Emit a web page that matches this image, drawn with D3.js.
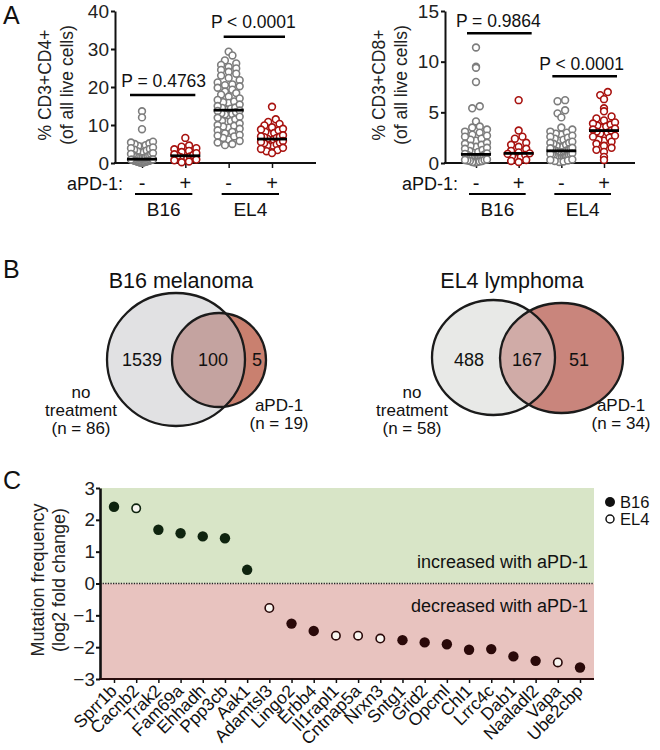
<!DOCTYPE html>
<html><head><meta charset="utf-8">
<script src="https://cdn.jsdelivr.net/npm/d3@7"></script>
<style>
body{margin:0;background:#fff;}
svg{display:block;font-family:"Liberation Sans",Arial,Helvetica,sans-serif;}
</style>
</head><body>
<svg id="fig" width="660" height="750"></svg>
<script>
// ---------------- DATA ----------------
const groupKeys = ["B16 -", "B16 +", "EL4 -", "EL4 +"];
const treatmentSigns = ["-", "+", "-", "+"];
const cellLines = ["B16", "EL4"];

// Panel A left: % CD3+CD4+ of all live cells
const cd4_B16_none = [13.6, 12.0, 8.9, 5.6, 5.4, 5.2, 5.0, 4.7, 4.5, 4.3, 4.1, 3.9, 3.7, 3.5, 3.3, 3.1, 2.9, 2.8, 2.6, 2.4, 2.3, 2.1, 2.0, 1.9, 1.7, 1.6, 1.5, 1.4, 1.3, 1.2, 1.1, 0.95, 0.9, 0.85, 0.8, 0.75, 0.7, 0.65, 0.6, 0.55, 0.5, 0.45, 0.4, 0.35, 0.3, 0.25, 0.2, 0.15, 0.1, 0.05, 0.9, 0.6, 0.3, 0.1];
const cd4_B16_aPD1 = [6.6, 4.6, 4.3, 3.9, 3.6, 3.2, 2.9, 2.6, 2.3, 2.1, 1.9, 1.7, 1.5, 1.3, 1.1, 0.9, 0.7, 0.4, 0.2];
const cd4_EL4_none = [29.3, 28.3, 27.0, 26.2, 25.8, 25.3, 24.9, 24.5, 24.0, 23.5, 23.0, 22.4, 21.8, 21.2, 20.7, 20.2, 19.8, 19.3, 18.8, 18.4, 18.0, 17.5, 17.0, 16.6, 16.2, 15.8, 15.4, 15.0, 14.6, 14.3, 14.0, 13.7, 13.4, 13.1, 12.8, 12.5, 12.2, 11.9, 11.5, 11.1, 10.8, 10.4, 10.0, 9.6, 9.3, 9.0, 8.6, 8.2, 7.8, 7.4, 7.0, 6.6, 6.2, 5.8, 5.4, 5.0, 4.7, 13.8, 14.5, 12.9, 16.0, 20.5, 11.0, 9.8, 7.2];
const cd4_EL4_aPD1 = [14.8, 11.5, 10.8, 10.3, 9.9, 9.4, 9.0, 8.6, 8.2, 7.9, 7.6, 7.3, 7.0, 6.8, 6.6, 6.4, 6.2, 6.0, 5.8, 5.5, 5.2, 4.9, 4.6, 4.3, 4.0, 3.7, 3.4, 3.1, 2.8, 2.6, 8.8, 6.9, 5.4, 4.5];
const cd4Medians = [1.0, 1.9, 13.9, 6.3];
const cd4Ticks = [0, 10, 20, 30, 40];
const cd4PLabels = ["P = 0.4763", "P < 0.0001"];

// Panel A right: % CD3+CD8+ of all live cells
const cd8_B16_none = [11.4, 9.5, 9.4, 8.0, 5.6, 5.4, 4.1, 3.6, 3.5, 3.3, 3.1, 3.0, 2.8, 2.7, 2.6, 2.4, 2.3, 2.2, 2.0, 1.9, 1.8, 1.7, 1.6, 1.5, 1.4, 1.3, 1.2, 1.1, 1.0, 0.95, 0.9, 0.85, 0.8, 0.75, 0.7, 0.65, 0.6, 0.55, 0.5, 0.45, 0.4, 0.35, 0.3, 0.25, 0.2, 0.15, 0.1, 0.05, 0.9, 0.7, 0.5, 0.3, 0.2, 0.1];
const cd8_B16_aPD1 = [6.2, 3.2, 2.6, 2.4, 2.0, 1.8, 1.6, 1.4, 1.2, 1.05, 0.95, 0.9, 0.8, 0.7, 0.6, 0.45, 0.3, 0.2, 0.1];
const cd8_EL4_none = [6.2, 6.1, 5.2, 4.9, 4.5, 3.5, 3.3, 3.1, 3.0, 2.9, 2.8, 2.6, 2.5, 2.4, 2.3, 2.2, 2.1, 2.0, 1.9, 1.8, 1.7, 1.6, 1.5, 1.45, 1.4, 1.35, 1.3, 1.25, 1.2, 1.15, 1.1, 1.05, 1.0, 0.95, 0.9, 0.85, 0.8, 0.75, 0.7, 0.65, 0.6, 0.55, 0.5, 0.45, 0.4, 0.35, 0.3, 0.25, 0.2, 0.15, 0.1, 1.3, 1.1, 0.9, 2.7, 2.0, 1.6, 0.5];
const cd8_EL4_aPD1 = [7.0, 6.7, 6.3, 5.4, 5.1, 4.4, 4.2, 4.0, 3.8, 3.6, 3.5, 3.4, 3.3, 3.2, 3.1, 3.0, 2.9, 2.8, 2.6, 2.5, 2.3, 2.1, 1.9, 1.7, 1.5, 1.3, 0.6, 0.3, 4.6, 3.9, 3.7, 2.7, 2.2, 1.1];
const cd8Medians = [0.85, 0.95, 1.2, 3.2];
const cd8Ticks = [0, 5, 10, 15];
const cd8PLabels = ["P = 0.9864", "P < 0.0001"];

// Panel B: Venn counts
const vennTitles = ["B16 melanoma", "EL4 lymphoma"];
const vennOnlyNone = [1539, 488];
const vennShared = [100, 167];
const vennOnlyAPD1 = [5, 51];
const vennNNone = [86, 58];
const vennNAPD1 = [19, 34];

// Panel C: mutation frequency log2 fold change
const genes = ["Sprr1b","Cacnb2","Trak2","Fam69a","Ehhadh","Ppp3cb","Aak1","Adamtsl3","Lingo2","Erbb4","Il1rapl1","Cntnap5a","Nrxn3","Sntg1","Grid2","Opcml","Chl1","Lrrc4c","Dab1","Naaladl2","Vapa","Ube2cbp"];
const log2FC = [2.41, 2.36, 1.69, 1.58, 1.48, 1.42, 0.43, -0.77, -1.26, -1.49, -1.64, -1.64, -1.73, -1.78, -1.85, -1.91, -2.08, -2.06, -2.29, -2.43, -2.48, -2.64];
const geneModel = ["B16","EL4","B16","B16","B16","B16","B16","EL4","B16","B16","EL4","EL4","EL4","B16","B16","B16","B16","B16","B16","B16","EL4","B16"];
const cTicks = [-3, -2, -1, 0, 1, 2, 3];

// ---------------- DRAWING ----------------
const svg = d3.select("#fig");
const FONT = 17.5;
const TICKFONT = 19;
const GRAY = "#7d7d7d", RED = "#a8120f";

function panelLabel(t, x, y) {
  svg.append("text").attr("x", x).attr("y", y).attr("font-size", 25).attr("fill", "#111").text(t);
}
panelLabel("A", 3, 24);
panelLabel("B", 3, 278);
panelLabel("C", 3, 489);

function swarm(vals, cx, y, r, maxHalf) {
  const rowH = 2 * r * 0.85;
  const pts = vals.map(v => ({ v, py: y(v) }));
  const rows = d3.groups(pts, p => Math.floor(p.py / rowH));
  const out = [];
  rows.forEach(([k, arr]) => {
    arr.sort((a, b) => a.v - b.v);
    const n = arr.length;
    const sp = n > 1 ? Math.min(2 * r * 1.05, 2 * maxHalf / (n - 1)) : 0;
    const slots = d3.range(n).map(i => (i - (n - 1) / 2) * sp);
    const order = slots.map((s, i) => i).sort((a, b) => Math.abs(slots[a]) - Math.abs(slots[b]));
    arr.forEach((p, i) => out.push({ x: cx + slots[order[i]], y: p.py }));
  });
  return out;
}

function scatterPanel(cfg) {
  const g = svg.append("g");
  const y = d3.scaleLinear().domain([0, cfg.yMax]).range([163, 11]);
  const x = d3.scalePoint().domain(groupKeys).range(cfg.xRange);

  const ya = g.append("g").attr("transform", `translate(${cfg.axisX},0)`)
    .call(d3.axisLeft(y).tickValues(cfg.ticks).tickSize(4).tickSizeOuter(0).tickPadding(2).tickFormat(d3.format("d")));
  ya.select(".domain").attr("stroke", "#111").attr("stroke-width", 2);
  ya.selectAll(".tick line").attr("stroke", "#111").attr("stroke-width", 2);
  ya.selectAll(".tick text").attr("font-size", TICKFONT).attr("fill", "#222").attr("font-family", null);

  g.append("line").attr("x1", cfg.axisX - 1).attr("x2", cfg.axisEnd).attr("y1", y(0)).attr("y2", y(0))
    .attr("stroke", "#111").attr("stroke-width", 2);
  const xa = g.append("g").attr("transform", `translate(0,${y(0)})`)
    .call(d3.axisBottom(x).tickSize(5).tickFormat(""));
  xa.select(".domain").remove();
  xa.selectAll(".tick line").attr("stroke", "#111").attr("stroke-width", 1.5);

  cfg.titles.forEach((t, i) => {
    g.append("text").attr("transform", `translate(${cfg.titleX[i]},85) rotate(-90)`)
      .attr("text-anchor", "middle").attr("dy", "0.35em").attr("font-size", FONT).attr("fill", "#222").text(t);
  });

  cfg.data.forEach((vals, gi) => {
    const col = gi % 2 === 0 ? GRAY : RED;
    const pts = swarm(vals, x(groupKeys[gi]), y, 3.6, 11);
    g.append("g").selectAll("circle").data(pts).join("circle")
      .attr("cx", d => d.x).attr("cy", d => d.y).attr("r", 3.4)
      .attr("fill", "#fff").attr("stroke", col).attr("stroke-width", 1.6);
  });
  g.append("g").selectAll("line").data(cfg.medians).join("line")
    .attr("x1", (d, i) => x(groupKeys[i]) - 15).attr("x2", (d, i) => x(groupKeys[i]) + 15)
    .attr("y1", d => y(d)).attr("y2", d => y(d)).attr("stroke", "#000").attr("stroke-width", 2.8);

  cfg.brackets.forEach((b, i) => {
    const x1 = x(groupKeys[2 * i]) - b.ext[0], x2 = x(groupKeys[2 * i + 1]) + b.ext[1];
    g.append("line").attr("x1", x1).attr("x2", x2).attr("y1", y(b.at)).attr("y2", y(b.at))
      .attr("stroke", "#000").attr("stroke-width", 2.5);
    g.append("text").attr("x", (x1 + x2) / 2 + b.dx).attr("y", y(b.at) - b.gap)
      .attr("text-anchor", "middle").attr("font-size", FONT).attr("fill", "#111").text(cfg.pLabels[i]);
  });

  g.append("text").attr("x", cfg.aPDx).attr("y", 190).attr("text-anchor", "end")
    .attr("font-size", 18).attr("fill", "#111").text("aPD-1:");
  g.append("g").selectAll("text").data(groupKeys).join("text")
    .attr("x", d => x(d)).attr("y", 190).attr("text-anchor", "middle")
    .attr("font-size", 20).attr("fill", "#111").text((d, i) => treatmentSigns[i]);
  cellLines.forEach((c, i) => {
    const xa1 = x(groupKeys[2 * i]) - 7, xa2 = x(groupKeys[2 * i + 1]) + 7;
    g.append("line").attr("x1", xa1).attr("x2", xa2).attr("y1", 194).attr("y2", 194)
      .attr("stroke", "#000").attr("stroke-width", 2);
    g.append("text").attr("x", (xa1 + xa2) / 2).attr("y", 216).attr("text-anchor", "middle")
      .attr("font-size", 19).attr("fill", "#111").text(c);
  });
}

scatterPanel({
  axisX: 115, axisEnd: 316, xRange: [142, 272], yMax: 40, ticks: cd4Ticks,
  data: [cd4_B16_none, cd4_B16_aPD1, cd4_EL4_none, cd4_EL4_aPD1], medians: cd4Medians,
  titles: ["% CD3+CD4+", "(of all live cells)"], titleX: [45, 67],
  pLabels: cd4PLabels,
  brackets: [{ at: 17.9, ext: [12, 10], gap: 8, dx: 1 }, { at: 33.2, ext: [5, 13], gap: 9, dx: -1 }],
  aPDx: 123
});
scatterPanel({
  axisX: 445, axisEnd: 635, xRange: [476, 604], yMax: 15, ticks: cd8Ticks,
  data: [cd8_B16_none, cd8_B16_aPD1, cd8_EL4_none, cd8_EL4_aPD1], medians: cd8Medians,
  titles: ["% CD3+CD8+", "(of all live cells)"], titleX: [379, 401],
  pLabels: cd8PLabels,
  brackets: [{ at: 12.8, ext: [9, 13], gap: 6, dx: -1 }, { at: 8.55, ext: [9, 13], gap: 6, dx: -3 }],
  aPDx: 458
});

// ---------------- Panel B: Venn ----------------
const vennLayout = [
  { tx: 181, big: { cx: 176, cy: 359.5, rx: 69, ry: 66.5 }, small: { cx: 219, cy: 360, rx: 47, ry: 47 },
    numX: [142, 213, 257], noneX: 81, apdX: 279,
    cBig: "#e1e1e3", cSmall: "#c9806f", cInt: "#c4a3a0" },
  { tx: 512, big: { cx: 493.5, cy: 357.5, rx: 61.5, ry: 57.5 }, small: { cx: 561.5, cy: 358, rx: 61.5, ry: 55 },
    numX: [469, 527, 579], noneX: 412, apdX: 621,
    cBig: "#e8e9e7", cSmall: "#c9857c", cInt: "#d0aba7" }
];
const defs = svg.append("defs");
vennLayout.forEach((L, i) => {
  const g = svg.append("g");
  g.append("text").attr("x", L.tx).attr("y", 288).attr("text-anchor", "middle")
    .attr("font-size", 21.5).attr("fill", "#111").text(vennTitles[i]);
  defs.append("clipPath").attr("id", "clipBig" + i).append("ellipse")
    .attr("cx", L.big.cx).attr("cy", L.big.cy).attr("rx", L.big.rx).attr("ry", L.big.ry);
  g.append("ellipse").attr("cx", L.big.cx).attr("cy", L.big.cy).attr("rx", L.big.rx).attr("ry", L.big.ry).attr("fill", L.cBig);
  g.append("ellipse").attr("cx", L.small.cx).attr("cy", L.small.cy).attr("rx", L.small.rx).attr("ry", L.small.ry).attr("fill", L.cSmall);
  g.append("ellipse").attr("cx", L.small.cx).attr("cy", L.small.cy).attr("rx", L.small.rx).attr("ry", L.small.ry)
    .attr("fill", L.cInt).attr("clip-path", `url(#clipBig${i})`);
  [L.big, L.small].forEach(e => g.append("ellipse").attr("cx", e.cx).attr("cy", e.cy).attr("rx", e.rx).attr("ry", e.ry)
    .attr("fill", "none").attr("stroke", "#1b1b1b").attr("stroke-width", 2.3));
  [vennOnlyNone[i], vennShared[i], vennOnlyAPD1[i]].forEach((v, k) => {
    g.append("text").attr("x", L.numX[k]).attr("y", 360).attr("dy", "0.36em").attr("text-anchor", "middle")
      .attr("font-size", 18).attr("fill", "#111").text(v);
  });
  ["no", "treatment", `(n = ${vennNNone[i]})`].forEach((t, k) => {
    g.append("text").attr("x", L.noneX).attr("y", 398 + k * 18).attr("text-anchor", "middle")
      .attr("font-size", 17).attr("fill", "#111").text(t);
  });
  ["aPD-1", `(n = ${vennNAPD1[i]})`].forEach((t, k) => {
    g.append("text").attr("x", L.apdX).attr("y", 411 + k * 18).attr("text-anchor", "middle")
      .attr("font-size", 17).attr("fill", "#111").text(t);
  });
});

// ---------------- Panel C ----------------
const gc = svg.append("g");
const xC = d3.scalePoint().domain(genes).range([114, 580]);
const yC = d3.scaleLinear().domain([-3, 3]).range([679, 488]);
const cLeft = 100, cRight = 594;
gc.append("rect").attr("x", cLeft).attr("y", yC(3)).attr("width", cRight - cLeft).attr("height", yC(0) - yC(3)).attr("fill", "#d8e5c7");
gc.append("rect").attr("x", cLeft).attr("y", yC(0)).attr("width", cRight - cLeft).attr("height", yC(-3) - yC(0)).attr("fill", "#e8c3bf");
gc.append("line").attr("x1", cLeft).attr("x2", cRight).attr("y1", yC(0)).attr("y2", yC(0))
  .attr("stroke", "#222").attr("stroke-width", 1.3).attr("stroke-dasharray", "1.3,1.3");

gc.append("text").attr("x", 588).attr("y", 568).attr("text-anchor", "end").attr("font-size", 18).attr("fill", "#111").text("increased with aPD-1");
gc.append("text").attr("x", 588).attr("y", 612).attr("text-anchor", "end").attr("font-size", 18).attr("fill", "#111").text("decreased with aPD-1");

const yaC = gc.append("g").attr("transform", `translate(${cLeft},0)`)
  .call(d3.axisLeft(yC).tickValues(cTicks).tickSize(4).tickSizeOuter(0).tickPadding(1).tickFormat(d3.format("d")));
yaC.select(".domain").attr("stroke", "#111").attr("stroke-width", 2.6);
yaC.selectAll(".tick line").attr("stroke", "#111").attr("stroke-width", 2);
yaC.selectAll(".tick text").attr("font-size", TICKFONT).attr("fill", "#222").attr("font-family", null);

gc.append("line").attr("x1", cLeft - 1).attr("x2", cRight).attr("y1", yC(-3)).attr("y2", yC(-3)).attr("stroke", "#2a0d0d").attr("stroke-width", 2);
const xaC = gc.append("g").attr("transform", `translate(0,${yC(-3)})`).call(d3.axisBottom(xC).tickSize(4).tickFormat(""));
xaC.select(".domain").remove();
xaC.selectAll(".tick line").attr("stroke", "#111").attr("stroke-width", 1.5);
gc.append("g").selectAll("text").data(genes).join("text")
  .attr("transform", d => `translate(${xC(d) + 4},${yC(-3) + 13}) rotate(-45)`)
  .attr("text-anchor", "end").attr("font-size", 17.5).attr("fill", "#111").text(d => d);

gc.append("g").selectAll("text").data(["Mutation frequency", "(log2 fold change)"]).join("text")
  .attr("transform", (d, i) => `translate(${[38, 59][i]},580) rotate(-90)`)
  .attr("text-anchor", "middle").attr("dy", "0.35em").attr("font-size", 18).attr("fill", "#222").text(d => d);

gc.append("g").selectAll("circle").data(genes).join("circle")
  .attr("cx", d => xC(d)).attr("cy", (d, i) => yC(log2FC[i]))
  .attr("r", (d, i) => geneModel[i] === "B16" ? 5.2 : 4.2)
  .attr("fill", (d, i) => geneModel[i] === "B16" ? (log2FC[i] > 0 ? "#0f240f" : "#2a0909") : "#f7f5f0")
  .attr("stroke", (d, i) => log2FC[i] > 0 ? "#0f240f" : "#2a0909")
  .attr("stroke-width", (d, i) => geneModel[i] === "B16" ? 0 : 1.6);

const lg = gc.append("g");
["B16", "EL4"].forEach((m, i) => {
  lg.append("circle").attr("cx", 610).attr("cy", 502 + i * 17).attr("r", m === "B16" ? 5 : 4)
    .attr("fill", m === "B16" ? "#111" : "#fff").attr("stroke", "#111").attr("stroke-width", m === "B16" ? 0 : 1.5);
  lg.append("text").attr("x", 620).attr("y", 502 + i * 17).attr("dy", "0.36em").attr("font-size", 16.5).attr("fill", "#111").text(m);
});
</script>
</body></html>
